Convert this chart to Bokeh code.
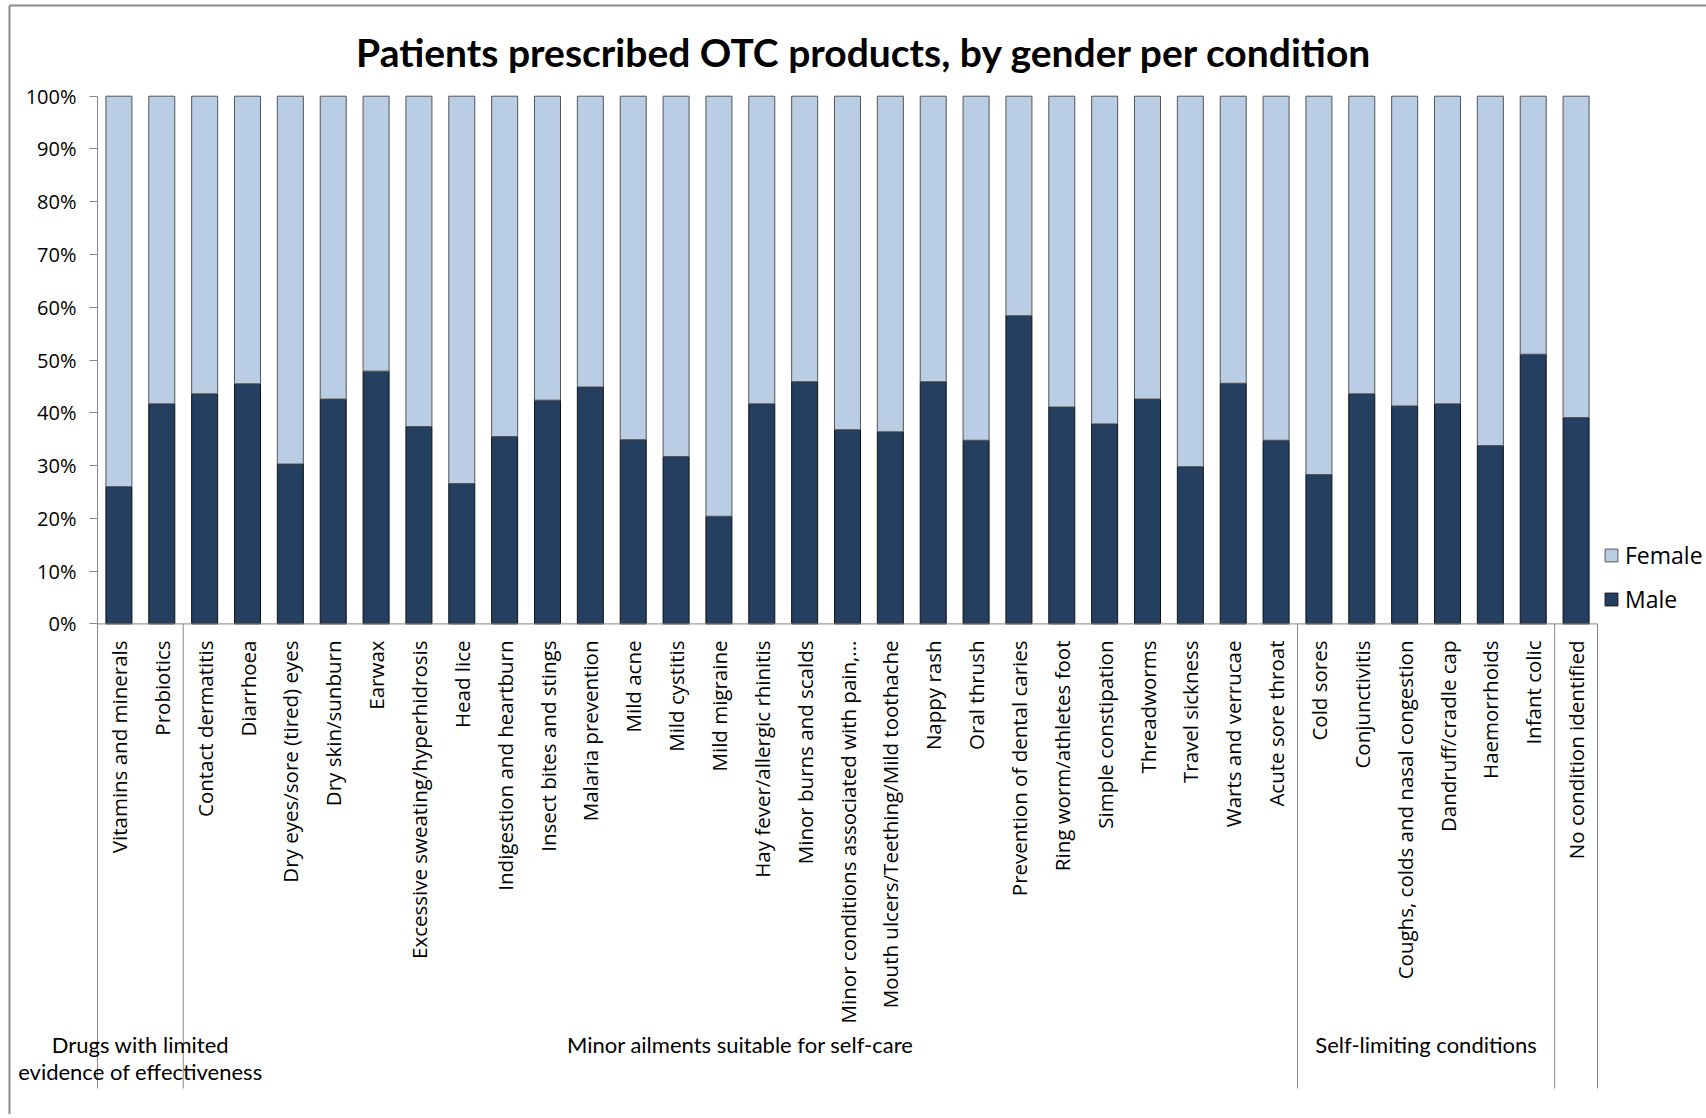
from math import pi
from bokeh.plotting import figure
from bokeh.models import (Range1d, FixedTicker, PrintfTickFormatter, Legend, LegendItem,
                          ColumnDataSource, LinearAxis)
from bokeh.core.properties import value
from bokeh.embed import file_html
from bokeh.resources import INLINE

# ---------------- data ----------------
categories = [
    "Vitamins and minerals", "Probiotics",
    "Contact dermatitis", "Diarrhoea", "Dry eyes/sore (tired) eyes", "Dry skin/sunburn",
    "Earwax", "Excessive sweating/hyperhidrosis", "Head lice", "Indigestion and heartburn",
    "Insect bites and stings", "Malaria prevention", "Mild acne", "Mild cystitis",
    "Mild migraine", "Hay fever/allergic rhinitis", "Minor burns and scalds",
    "Minor conditions associated with pain,...", "Mouth ulcers/Teething/Mild toothache",
    "Nappy rash", "Oral thrush", "Prevention of dental caries", "Ring worm/athletes foot",
    "Simple constipation", "Threadworms", "Travel sickness", "Warts and verrucae",
    "Acute sore throat",
    "Cold sores", "Conjunctivitis", "Coughs, colds and nasal congestion",
    "Dandruff/cradle cap", "Haemorrhoids", "Infant colic",
    "No condition identified",
]
male = [26.0, 41.7, 43.6, 45.5, 30.3, 42.6, 47.9, 37.4, 26.6, 35.5, 42.4, 44.9, 34.9,
        31.7, 20.4, 41.7, 45.9, 36.8, 36.4, 45.9, 34.8, 58.4, 41.1, 37.9, 42.6, 29.8,
        45.6, 34.8, 28.3, 43.6, 41.3, 41.7, 33.8, 51.1, 39.1]
female = [74.0, 58.3, 56.4, 54.5, 69.7, 57.4, 52.1, 62.6, 73.4, 64.5, 57.6, 55.1, 65.1,
          68.3, 79.6, 58.3, 54.1, 63.2, 63.6, 54.1, 65.2, 41.6, 58.9, 62.1, 57.4, 70.2,
          54.4, 65.2, 71.7, 56.4, 58.7, 58.3, 66.2, 48.9, 60.9]
groups = ["Drugs with limited\nevidence of effectiveness",
          "Minor ailments suitable for self-care",
          "Self-limiting conditions", ""]
group_sizes = [2, 26, 6, 1]
y_ticks = [0, 10, 20, 30, 40, 50, 60, 70, 80, 90, 100]

TITLE = "Patients prescribed OTC products, by gender per condition"
MALE_C = "#243F60"
FEMALE_C = "#B9CDE5"
AXIS_C = "#868686"
BORDER_C = "#8a8a8a"

# ---------------- geometry (pixels) ----------------
W, H = 1706, 1114
PX_X = 1500 / 35          # px per category
X0_PX = 97                # canvas x of category axis start
PX_Y = 5.277              # px per percent
Y0_PX = 623.4             # canvas y of 0 %

x_start = -X0_PX / PX_X
x_end = x_start + W / PX_X
y_end = Y0_PX / PX_Y
y_start = y_end - H / PX_Y

def ypx(canvas_y):
    return (Y0_PX - canvas_y) / PX_Y

def xpx(canvas_x):
    return (canvas_x - X0_PX) / PX_X

p = figure(width=W, height=H, x_range=Range1d(x_start, x_end),
           y_range=Range1d(y_start, y_end),
           output_backend="svg", toolbar_location=None,
           x_axis_location=None, y_axis_location=None,
           min_border_left=0, min_border_right=0, min_border_top=0, min_border_bottom=0)
p.outline_line_color = None
p.grid.visible = False
p.background_fill_color = "white"
p.border_fill_color = "white"

xs = [i + 0.5 for i in range(len(categories))]

src = ColumnDataSource(dict(x=xs, cat=categories, Male=male, Female=female))
rs = p.vbar_stack(["Male", "Female"], x="x", width=0.607, source=src,
                  fill_color=[MALE_C, FEMALE_C], line_color=["#111111", "#555555"],
                  line_width=1)

# chart-area border (left and top)
bx = xpx(9)
by = ypx(5)
p.segment(x0=[bx, bx], y0=[y_start, by], x1=[bx, x_end], y1=[by, by],
          line_color=BORDER_C, line_width=2)

# category axis baseline + group separators
bounds = [0]
for s in group_sizes:
    bounds.append(bounds[-1] + s)
p.segment(x0=[bounds[0]], y0=[0], x1=[bounds[-1]], y1=[0], line_color=AXIS_C, line_width=1)
p.segment(x0=bounds, y0=[0] * len(bounds), x1=bounds, y1=[ypx(1088)] * len(bounds),
          line_color=AXIS_C, line_width=1)

# category labels (rotated)
p.text(x=xs, y=[ypx(640)] * len(categories), text=categories, angle=pi / 2,
       text_align="right", text_baseline="middle", text_font=value("Open Sans"),
       text_font_size="20.5px", text_color="black")

# group labels
centers = [bounds[i] + group_sizes[i] / 2 for i in range(len(group_sizes))]
p.text(x=centers, y=[ypx(1030)] * len(centers), text=groups, text_align="center",
       text_baseline="top", text_font=value("Lato"), text_font_size="22px",
       text_color="black", text_line_height=1.0)

# title
p.text(x=[xpx(864)], y=[ypx(51)], text=[TITLE], text_align="center",
       text_baseline="middle", text_font=value("Lato"), text_font_style="bold",
       text_font_size="39px", text_color="black")

# y axis drawn at the category-axis start
ax = LinearAxis(fixed_location=0, bounds=(0, 100))
ax.ticker = FixedTicker(ticks=y_ticks)
ax.formatter = PrintfTickFormatter(format="%d%%")
ax.axis_line_color = AXIS_C
ax.major_tick_line_color = AXIS_C
ax.major_tick_out = 8
ax.major_tick_in = 0
ax.minor_tick_line_color = None
ax.major_label_text_font = "Open Sans"
ax.major_label_text_font_size = "20px"
ax.major_label_text_color = "black"
ax.major_label_standoff = 13
p.add_layout(ax, "left")

legend = Legend(items=[LegendItem(label="Female", renderers=[rs[1]]),
                       LegendItem(label="Male", renderers=[rs[0]])],
                location=(1603, H - 615), orientation="vertical",
                label_text_font="Open Sans", label_text_font_size="23px",
                label_text_color="black", glyph_width=16, glyph_height=16,
                label_standoff=6, spacing=12, label_height=25, padding=0, margin=0,
                border_line_color=None, background_fill_alpha=0)
p.add_layout(legend)

open("out.html", "w").write(file_html(p, INLINE))
